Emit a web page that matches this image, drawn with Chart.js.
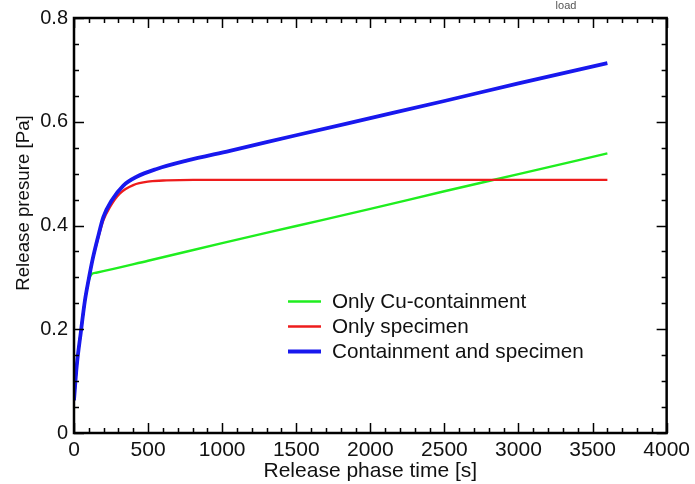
<!DOCTYPE html>
<html>
<head>
<meta charset="utf-8">
<script src="https://cdn.jsdelivr.net/npm/chart.js@4/dist/chart.umd.min.js"></script>
<style>
  html, body { margin: 0; padding: 0; background: #fff; }
  #wrap { width: 695px; height: 484px; }
</style>
</head>
<body>
<div id="wrap"><canvas id="c" width="695" height="484"></canvas></div>
<script>
// release phase time [s] and release pressure [Pa], one pair of arrays per curve
const tCu = [0, 18, 45, 74, 97, 110, 122, 150, 500, 1000, 1500, 2000, 2500, 3000, 3600];
const soloCu = [0.063, 0.128, 0.192, 0.256, 0.291, 0.302, 0.307, 0.309, 0.332, 0.366, 0.399, 0.432, 0.466, 0.499, 0.539];

const tProbeta = [0, 18, 45, 74, 97, 126, 164, 198, 243, 310, 400, 512, 625, 805, 1500, 2500, 3600];
const soloProbeta = [0.063, 0.128, 0.192, 0.256, 0.293, 0.335, 0.377, 0.410, 0.436, 0.462, 0.478, 0.485, 0.487, 0.488, 0.488, 0.488, 0.488];

const tAmbos = [0, 18, 45, 74, 97, 126, 164, 198, 254, 333, 423, 558, 760, 1052, 1500, 2000, 2500, 3000, 3600];
const ambos = [0.063, 0.128, 0.192, 0.256, 0.293, 0.335, 0.380, 0.416, 0.448, 0.477, 0.494, 0.509, 0.525, 0.544, 0.574, 0.607, 0.640, 0.674, 0.713];

const etiquetas = ["Only Cu-containment", "Only specimen", "Containment and specimen"];
const xTicks = [0, 500, 1000, 1500, 2000, 2500, 3000, 3500, 4000];
const yTicks = [0, 0.2, 0.4, 0.6, 0.8];

const fuente = "'Liberation Sans', Arial, sans-serif";

function puntos(tiempos, valores) {
  return tiempos.map((t, i) => ({ x: t, y: valores[i] }));
}

// frame, inward ticks on all four sides, y title and legend inside the plot
const marco = {
  id: 'marco',
  afterDraw(chart) {
    const ctx = chart.ctx;
    const a = chart.chartArea;
    const sx = chart.scales.x, sy = chart.scales.y;
    ctx.save();
    ctx.strokeStyle = '#000';
    ctx.lineWidth = 1.5;
    for (let v = 0; v <= 4000; v += 100) {
      const px = Math.round(sx.getPixelForValue(v)) + 0.5;
      const len = v % 500 === 0 ? 10 : 5;
      ctx.beginPath();
      ctx.moveTo(px, a.bottom); ctx.lineTo(px, a.bottom - len);
      ctx.moveTo(px, a.top); ctx.lineTo(px, a.top + len);
      ctx.stroke();
    }
    for (let k = 0; k <= 16; k++) {
      const py = Math.round(sy.getPixelForValue(k * 0.05)) + 0.5;
      const len = k % 4 === 0 ? 10 : 5;
      ctx.beginPath();
      ctx.moveTo(a.left, py); ctx.lineTo(a.left + len, py);
      ctx.moveTo(a.right, py); ctx.lineTo(a.right - len, py);
      ctx.stroke();
    }
    ctx.lineWidth = 2.5;
    ctx.strokeRect(a.left, a.top, a.right - a.left, a.bottom - a.top);

    ctx.fillStyle = '#111';
    ctx.textAlign = 'center';
    ctx.textBaseline = 'middle';
    ctx.font = '18.7px ' + fuente;
    ctx.save();
    ctx.translate(24, 203);
    ctx.rotate(-Math.PI / 2);
    ctx.fillText('Release presure [Pa]', 0, 0);
    ctx.restore();

    // bit of the cut-off heading
    ctx.font = '11px ' + fuente;
    ctx.fillStyle = '#555';
    ctx.fillText('load', 566, 6);

    // legend
    const ds = chart.data.datasets;
    const lx = 288, ly = 301.5, paso = 25;
    ctx.font = '20.7px ' + fuente;
    ctx.textAlign = 'left';
    ctx.fillStyle = '#111';
    etiquetas.forEach((lab, i) => {
      const d = ds.find(s => s.label === lab);
      const y = ly + i * paso;
      ctx.strokeStyle = d.borderColor;
      ctx.lineWidth = d.borderWidth;
      ctx.beginPath();
      ctx.moveTo(lx, y); ctx.lineTo(lx + 33, y);
      ctx.stroke();
      ctx.fillText(lab, lx + 44, y + 1);
    });
    ctx.restore();
  }
};

new Chart(document.getElementById('c'), {
  type: 'line',
  data: {
    datasets: [
      { label: etiquetas[0], data: puntos(tCu, soloCu), borderColor: '#1fee1f', borderWidth: 2.4, order: 2 },
      { label: etiquetas[1], data: puntos(tProbeta, soloProbeta), borderColor: '#ee1c1c', borderWidth: 2.4, order: 1 },
      { label: etiquetas[2], data: puntos(tAmbos, ambos), borderColor: '#1818ee', borderWidth: 3.8, order: 0 }
    ]
  },
  options: {
    responsive: false,
    animation: false,
    elements: {
      point: { radius: 0 },
      line: { cubicInterpolationMode: 'monotone', fill: false }
    },
    layout: { padding: { top: 17, right: 27, left: 0, bottom: 0 } },
    plugins: { legend: { display: false }, tooltip: { enabled: false } },
    scales: {
      x: {
        type: 'linear',
        min: 0, max: 4000,
        afterBuildTicks: s => { s.ticks = xTicks.map(v => ({ value: v })); },
        afterFit: s => { s.height = 51; },
        grid: { display: false, drawTicks: false },
        border: { display: false },
        ticks: { color: '#111', font: { family: fuente, size: 21 }, padding: 5, maxRotation: 0, callback: v => String(v) },
        title: { display: true, text: 'Release phase time [s]', color: '#111', font: { family: fuente, size: 21 }, padding: { top: 0, bottom: 0 } }
      },
      y: {
        type: 'linear',
        min: 0, max: 0.8,
        afterBuildTicks: s => { s.ticks = yTicks.map(v => ({ value: v })); },
        afterFit: s => { s.width = 74; },
        grid: { display: false, drawTicks: false },
        border: { display: false },
        ticks: { color: '#111', font: { family: fuente, size: 20 }, padding: 6, callback: v => String(Math.round(v * 10) / 10) }
      }
    }
  },
  plugins: [marco]
});
</script>
</body>
</html>
